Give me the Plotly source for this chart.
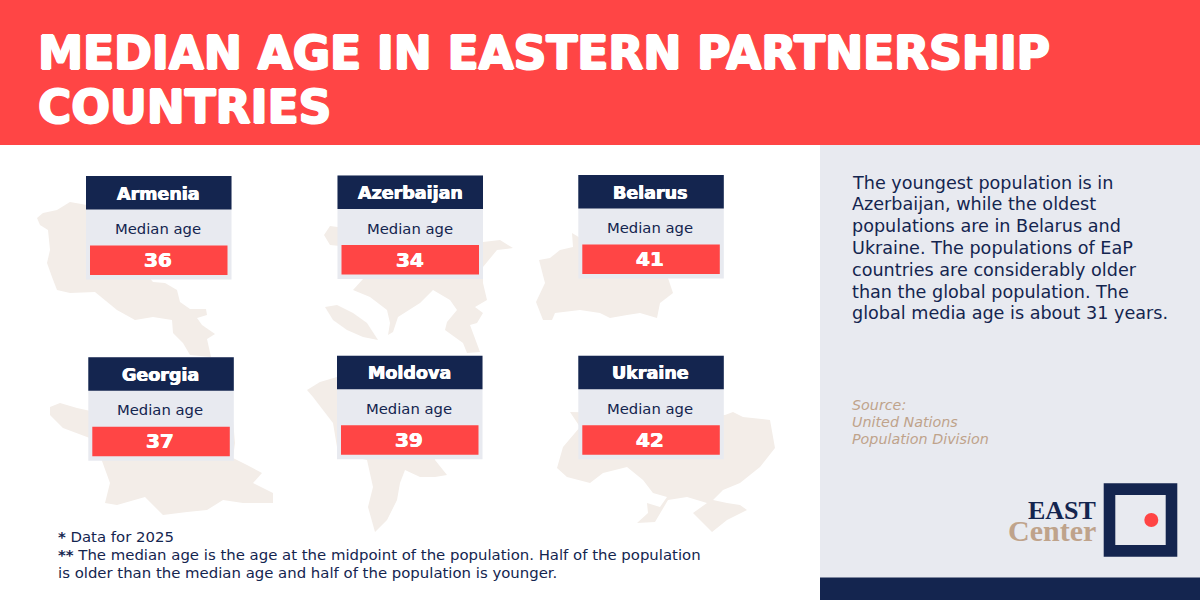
import plotly.graph_objects as go

# Input data
countries = ['Armenia', 'Azerbaijan', 'Belarus', 'Georgia', 'Moldova', 'Ukraine']
median_ages = [36, 34, 41, 37, 39, 42]
card_label = 'Median age'

title_lines = ['MEDIAN AGE IN EASTERN PARTNERSHIP', 'COUNTRIES']
body_lines = [
    'The youngest population is in',
    'Azerbaijan, while the oldest',
    'populations are in Belarus and',
    'Ukraine. The populations of EaP',
    'countries are considerably older',
    'than the global population. The',
    'global media age is about 31 years.',
]
source_lines = ['Source:', 'United Nations', 'Population Division']
note_lines = [
    '<b>*</b> Data for 2025',
    '<b>**</b> The median age is the age at the midpoint of the population. Half of the population',
    'is older than the median age and half of the population is younger.',
]

# page layout, in pixels of the 1200x600 canvas
RED = '#FF4545'
NAVY = '#14254F'
GREY = '#E8EAF0'
TAN = '#BFA38B'
MAP = '#F3EDE8'
SANS = 'DejaVu Sans, sans-serif'
SERIF = 'Liberation Serif, serif'
# DejaVu tops out at bold, a white text shadow gets it nearer the extra bold of the original
HEAVY = '1.1px 0 0 #fff, -1.1px 0 0 #fff, 0 0.7px 0 #fff, 0 -0.7px 0 #fff'
SEMI = '0.4px 0 0 #fff, -0.4px 0 0 #fff'

# left, top of each card
card_pos = [(86, 176), (337.5, 175.5), (578.3, 175), (88.3, 357.3), (337, 355.7), (578.3, 355.7)]

map_outlines = [
    # Armenia
    [(37, 218), (43, 213), (57, 210), (70, 202), (87, 205), (153, 282), (165, 283), (177, 290), (180, 302),
     (190, 309), (206, 309), (207, 315), (197, 318), (202, 325), (215, 334), (207, 339), (211, 357), (190, 355),
     (183, 343), (173, 333), (172, 320), (153, 317), (135, 320), (117, 310), (95, 292), (70, 293), (57, 290),
     (52, 277), (47, 263), (50, 250), (48, 230), (40, 225)],
    # Azerbaijan
    [(363, 279), (353, 290), (370, 297), (387, 310), (390, 323), (388, 335), (393, 332), (398, 317), (420, 303),
     (433, 290), (450, 300), (457, 310), (447, 322), (445, 330), (463, 343), (467, 353), (480, 352), (470, 325),
     (477, 323), (483, 313), (475, 307), (487, 300), (483, 283), (483, 267), (497, 250), (513, 248), (500, 240),
     (483, 242), (345, 228), (330, 226), (324, 235), (330, 245), (340, 246), (340, 270)],
    [(325, 307), (337, 305), (353, 313), (367, 323), (378, 340), (363, 337), (347, 330), (333, 320)],
    # Belarus
    [(572, 233), (573, 247), (560, 250), (550, 258), (539, 260), (545, 283), (536, 302), (543, 320), (552, 320),
     (555, 313), (580, 310), (600, 313), (610, 318), (627, 315), (640, 313), (657, 318), (660, 303), (673, 293),
     (668, 278), (600, 250)],
    # Georgia
    [(50, 407), (60, 403), (77, 408), (95, 412), (233, 420), (235, 443), (233, 458), (247, 465), (262, 473),
     (253, 483), (273, 493), (273, 503), (243, 503), (223, 500), (207, 510), (187, 512), (163, 515), (145, 497),
     (117, 505), (105, 503), (110, 483), (102, 461), (95, 440), (63, 428), (50, 415)],
    # Moldova
    [(307, 390), (320, 382), (337, 377), (435, 400), (435, 460), (447, 475), (435, 477), (420, 477), (405, 470),
     (400, 483), (397, 500), (387, 520), (375, 532), (368, 507), (373, 487), (367, 460), (338, 453), (333, 423),
     (313, 397)],
    # Ukraine
    [(570, 412), (580, 427), (563, 447), (557, 468), (567, 477), (590, 483), (603, 473), (627, 467), (643, 480),
     (653, 493), (667, 497), (660, 507), (647, 503), (648, 513), (637, 523), (655, 522), (668, 500), (687, 497),
     (707, 503), (693, 513), (712, 532), (727, 520), (747, 510), (740, 505), (727, 503), (713, 500), (723, 490),
     (740, 483), (760, 467), (775, 448), (770, 420), (743, 417), (733, 412), (725, 415)],
]


def rect(x0, y0, x1, y1, color):
    return dict(type='rect', x0=x0, y0=y0, x1=x1, y1=y1, fillcolor=color, line_width=0, layer='below')


def label(x, y, text, size, color, anchor='left', font=SANS, weight=400, style='normal', shadow='none'):
    return dict(x=x, y=y, text=text, showarrow=False, xanchor=anchor, yanchor='middle',
                font=dict(family=font, size=size, color=color, weight=weight, style=style, shadow=shadow))


shapes = []
annotations = []

shapes.append(rect(0, 0, 1200, 145, RED))
shapes.append(rect(820, 145, 1200, 600, GREY))
shapes.append(rect(820, 577.5, 1200, 600, NAVY))

for outline in map_outlines:
    path = 'M' + ' L'.join(f'{x},{y}' for x, y in outline) + ' Z'
    shapes.append(dict(type='path', path=path, fillcolor=MAP, line_width=0, layer='below'))

for (x, y), name, age in zip(card_pos, countries, median_ages):
    shapes.append(rect(x, y, x + 145.5, y + 103.5, GREY))
    shapes.append(rect(x, y, x + 145.5, y + 33.5, NAVY))
    shapes.append(rect(x + 4, y + 69.5, x + 141.5, y + 99, RED))
    annotations.append(label(x + 72.5, y + 17.5, name, 17.5, 'white', 'center', weight=700, shadow=SEMI))
    annotations.append(label(x + 72, y + 52.5, card_label, 14.8, NAVY, 'center'))
    annotations.append(label(x + 72, y + 84, str(age), 20, 'white', 'center', weight=700, shadow=SEMI))

for text, y in zip(title_lines, [53, 107]):
    annotations.append(label(36, y, text, 45.4, 'white', weight=700, shadow=HEAVY))
for text, y in zip(body_lines, [183, 204, 226, 248, 270, 292, 313]):
    annotations.append(label(850, y, text, 17.6, NAVY))
for text, y in zip(source_lines, [405, 422, 439]):
    annotations.append(label(850, y, text, 14.3, TAN, style='italic'))
for text, y in zip(note_lines, [537, 555, 573]):
    annotations.append(label(56, y, text, 14.9, NAVY))

# logo
shapes.append(rect(1103.7, 483.3, 1177.3, 556.7, NAVY))
shapes.append(rect(1115.3, 495, 1165.7, 545, GREY))
shapes.append(dict(type='circle', x0=1144.3, y0=513, x1=1158.3, y1=527, fillcolor=RED, line_width=0, layer='below'))
annotations.append(label(1098, 510, 'EAST', 26, NAVY, 'right', SERIF, 700))
annotations.append(label(1098, 530, 'Center', 30, TAN, 'right', SERIF, 700))

fig = go.Figure()
fig.update_layout(
    width=1200, height=600,
    margin=dict(l=0, r=0, t=0, b=0),
    paper_bgcolor='white', plot_bgcolor='white',
    xaxis=dict(range=[0, 1200], visible=False, fixedrange=True),
    yaxis=dict(range=[600, 0], visible=False, fixedrange=True),
    showlegend=False,
    shapes=shapes,
    annotations=annotations,
)
# the page's default body margin would push the full-bleed header in by 8px
fig.write_html("out.html", config={'displayModeBar': False},
               post_script="document.body.style.margin='0';document.body.style.overflow='hidden';")
